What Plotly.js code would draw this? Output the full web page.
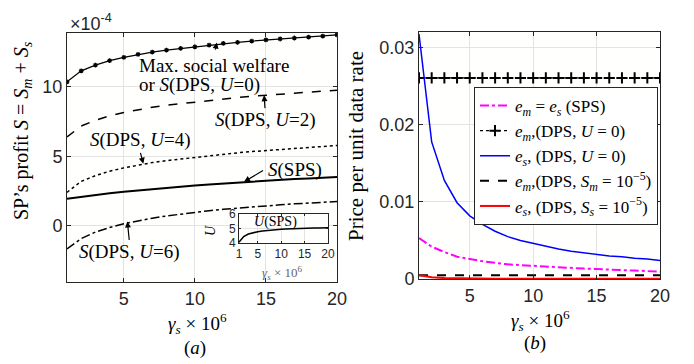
<!DOCTYPE html>
<html>
<head>
<meta charset="utf-8">
<script src="https://cdn.plot.ly/plotly-3.0.1.min.js"></script>
<style>html,body{margin:0;padding:0;background:#fff;}#chart{width:694px;height:364px;}</style>
</head>
<body>
<div id="chart"></div>
<script>
// gamma_s x 10^6
const gamma = [1,2,3,4,5,6,7,8,9,10,11,12,13,14,15,16,17,18,19,20];

// Panel (a): SP's profit S (units of 1e-4)
const sMaxWelfare = [10.36,11.15,11.56,11.88,12.12,12.33,12.50,12.64,12.76,12.88,13.00,13.12,13.20,13.29,13.37,13.44,13.51,13.58,13.65,13.73];
const sDpsU2 = [6.39,7.18,7.59,7.91,8.15,8.36,8.53,8.67,8.79,8.91,9.03,9.15,9.23,9.32,9.40,9.47,9.54,9.61,9.68,9.76];
const sDpsU4 = [2.41,3.20,3.61,3.93,4.17,4.38,4.55,4.69,4.81,4.93,5.05,5.17,5.25,5.34,5.42,5.49,5.56,5.63,5.70,5.78];
const sSps = [1.95,2.09,2.22,2.34,2.45,2.55,2.64,2.73,2.82,2.91,2.98,3.05,3.12,3.18,3.24,3.30,3.36,3.41,3.46,3.51];
const sDpsU6 = [-1.66,-0.92,-0.45,-0.12,0.15,0.36,0.55,0.71,0.85,0.98,1.09,1.19,1.28,1.36,1.44,1.51,1.58,1.64,1.70,1.75];

// Inset: U(SPS)
const uSps = [4.05,4.45,4.62,4.72,4.78,4.83,4.87,4.90,4.92,4.94,4.96,4.98,4.99,5.00,5.01,5.02,5.03,5.04,5.05,5.06];

// Panel (b): price per unit data rate
const eSps = [0.0053,0.0042,0.0035,0.0029,0.0026,0.0023,0.0021,0.0019,0.0018,0.0017,0.0016,0.0015,0.0014,0.00135,0.0013,0.0012,0.00115,0.0011,0.0010,0.00095];
const emDpsU0 = [0.0261,0.0261,0.0261,0.0261,0.0261,0.0261,0.0261,0.0261,0.0261,0.0261,0.0261,0.0261,0.0261,0.0261,0.0261,0.0261,0.0261,0.0261,0.0261,0.0261];
const esDpsU0 = [0.0318,0.0178,0.0128,0.0099,0.0082,0.0071,0.0062,0.0055,0.0050,0.0046,0.0042,0.0039,0.0036,0.0034,0.0032,0.0030,0.0029,0.0027,0.0026,0.0024];
const emDpsSm = [0.00048,0.00048,0.00048,0.00048,0.00048,0.00048,0.00048,0.00048,0.00048,0.00048,0.00048,0.00048,0.00048,0.00048,0.00048,0.00048,0.00048,0.00048,0.00048,0.00048];
const esDpsSs = [0.0005,0.00022,0.00012,0.00008,0.00006,0.00005,0.00004,0.00004,0.00003,0.00003,0.00003,0.00003,0.00002,0.00002,0.00002,0.00002,0.00002,0.00002,0.00002,0.00002];

const legendNames = [
  '<i>e</i><sub><i>m</i></sub> = <i>e</i><sub><i>s</i></sub> (SPS)',
  '<i>e</i><sub><i>m</i></sub>,(DPS, <i>U</i> = 0)',
  '<i>e</i><sub><i>s</i></sub>, (DPS, <i>U</i> = 0)',
  '<i>e</i><sub><i>m</i></sub>,(DPS, <i>S</i><sub><i>m</i></sub> = 10<sup>−5</sup>)',
  '<i>e</i><sub><i>s</i></sub>, (DPS, <i>S</i><sub><i>s</i></sub> = 10<sup>−5</sup>)'
];

const W = 694, H = 364;
const px = v => v / W;
const py = v => 1 - v / H;
const SERIF = 'Liberation Serif, Times New Roman, serif';
const SANS = 'Liberation Sans, Arial, sans-serif';
const AX = '#262626';

const traces = [
  {x: gamma, y: sMaxWelfare, xaxis: 'x', yaxis: 'y', mode: 'lines+markers', showlegend: false,
   line: {color: '#000', width: 1.2}, marker: {symbol: 'asterisk-open', size: 4, color: '#000', line: {color: '#000', width: 1.2}}},
  {x: gamma, y: sDpsU2, xaxis: 'x', yaxis: 'y', mode: 'lines', showlegend: false, line: {color: '#000', width: 1.5, dash: 'dash'}},
  {x: gamma, y: sDpsU4, xaxis: 'x', yaxis: 'y', mode: 'lines', showlegend: false, line: {color: '#000', width: 1.5, dash: 'dot'}},
  {x: gamma, y: sSps, xaxis: 'x', yaxis: 'y', mode: 'lines', showlegend: false, line: {color: '#000', width: 2}},
  {x: gamma, y: sDpsU6, xaxis: 'x', yaxis: 'y', mode: 'lines', showlegend: false, line: {color: '#000', width: 1.5, dash: 'dashdot'}},
  {x: gamma, y: uSps, xaxis: 'x3', yaxis: 'y3', mode: 'lines', showlegend: false, line: {color: '#000', width: 1.5}},

  {x: gamma, y: eSps, xaxis: 'x2', yaxis: 'y2', mode: 'lines', name: legendNames[0], line: {color: '#ff00ff', width: 2, dash: 'dashdot'}},
  {x: gamma, y: emDpsU0, xaxis: 'x2', yaxis: 'y2', mode: 'lines+markers', name: legendNames[1],
   line: {color: '#000', width: 1.2, dash: 'dot'}, marker: {symbol: 'cross-thin-open', size: 8, color: '#000', line: {color: '#000', width: 2}}},
  {x: gamma, y: esDpsU0, xaxis: 'x2', yaxis: 'y2', mode: 'lines', name: legendNames[2], line: {color: '#0000ff', width: 1.5}},
  {x: gamma, y: emDpsSm, xaxis: 'x2', yaxis: 'y2', mode: 'lines', name: legendNames[3], line: {color: '#000', width: 2, dash: 'dash'}},
  {x: gamma, y: esDpsSs, xaxis: 'x2', yaxis: 'y2', mode: 'lines', name: legendNames[4], line: {color: '#ff0000', width: 2}}
];

function axisBase(extra) {
  return Object.assign({
    showgrid: true, gridcolor: '#e3e3e3', gridwidth: 1, zeroline: false,
    showline: true, linecolor: AX, linewidth: 1, mirror: 'ticks',
    ticks: 'inside', ticklen: 4, tickcolor: AX, tickwidth: 1,
    tickfont: {family: SANS, size: 18, color: AX}, automargin: false, fixedrange: true
  }, extra);
}

const annos = [];
function txt(text, x, y, size, opts) {
  annos.push(Object.assign({text: text, xref: 'paper', yref: 'paper', x: px(x), y: py(y),
    xanchor: 'center', yanchor: 'middle', showarrow: false, font: {family: SERIF, size: size, color: '#000'}}, opts || {}));
}
function arrow(hx, hy, tx, ty, xr, yr) {
  annos.push({text: '', xref: xr || 'x', yref: yr || 'y', axref: xr || 'x', ayref: yr || 'y',
    x: hx, y: hy, ax: tx, ay: ty, showarrow: true, arrowhead: 2, arrowsize: 1, arrowwidth: 1.2, arrowcolor: '#000'});
}

// panel (a) labels
txt('×10<sup>-4</sup>', 68, 22, 18, {xanchor: 'left', font: {family: SANS, size: 18, color: AX}});
txt('Max. social welfare', 137, 65, 19, {xanchor: 'left'});
txt('or <i>S</i>(DPS, <i>U</i>=0)', 137, 85, 19, {xanchor: 'left'});
txt('<i>S</i>(DPS, <i>U</i>=2)', 264.5, 120, 19);
txt('<i>S</i>(DPS, <i>U</i>=4)', 140, 140, 19);
txt('<i>S</i>(SPS)', 295, 170, 19);
txt('<i>S</i>(DPS, <i>U</i>=6)', 129, 252, 19);
arrow(11.54, 13.18, 11.42, 12.57);
arrow(14.87, 9.39, 14.94, 8.36);
arrow(6.37, 4.47, 6.14, 5.36);
arrow(13.46, 3.17, 14.9, 4.04);
arrow(5.25, 0.31, 5.39, -1.13);
// inset labels
txt('<i>U</i>(SPS)', 275, 222, 14);
txt('<i>U</i>', 210, 230, 14, {textangle: -90});
txt('<i>γ</i><sub><i>s</i></sub> × 10<sup>6</sup>', 282, 273, 13, {font: {family: SERIF, size: 13, color: '#666'}});
// axis titles
txt('SP\u2019s profit <i>S</i> = <i>S</i><sub><i>m</i></sub> + <i>S</i><sub><i>s</i></sub>', 22, 131, 20, {textangle: -90});
txt('<i>γ</i><sub><i>s</i></sub> × 10<sup>6</sup>', 197, 323, 19);
txt('(<i>a</i>)', 195, 348, 19);
txt('Price per unit data rate', 356, 146, 21, {textangle: -90});
txt('<i>γ</i><sub><i>s</i></sub> × 10<sup>6</sup>', 540, 320, 19);
txt('(<i>b</i>)', 535, 343, 19);

const layout = {
  width: W, height: H,
  margin: {l: 0, r: 0, t: 0, b: 0},
  paper_bgcolor: '#ffffff', plot_bgcolor: '#fffffe',
  showlegend: true,
  xaxis: axisBase({domain: [px(67), px(337)], range: [1, 20], tickvals: [5, 10, 15, 20], anchor: 'y'}),
  yaxis: axisBase({domain: [py(282), py(33)], range: [-4.04, 13.87], tickvals: [0, 5, 10], anchor: 'x'}),
  xaxis2: axisBase({domain: [px(419), px(660)], range: [1, 20], tickvals: [5, 10, 15, 20], anchor: 'y2'}),
  yaxis2: axisBase({domain: [py(279), py(31.7)], range: [0, 0.0321], tickvals: [0, 0.01, 0.02, 0.03], ticktext: ['0', '0.01', '0.02', '0.03'], anchor: 'x2'}),
  xaxis3: axisBase({domain: [px(239), px(328)], range: [1, 20], tickvals: [1, 5, 10, 15, 20], anchor: 'y3', ticklen: 2,
    tickfont: {family: SANS, size: 12, color: AX}}),
  yaxis3: axisBase({domain: [py(243), py(214)], range: [4, 6], tickvals: [4, 5, 6], anchor: 'x3', ticklen: 2,
    tickfont: {family: SANS, size: 12, color: AX}}),
  legend: {x: px(658), xanchor: 'right', y: py(87), yanchor: 'top', bgcolor: '#ffffff',
    bordercolor: AX, borderwidth: 1, font: {family: SERIF, size: 17, color: '#000'},
    itemwidth: 30, tracegroupgap: 0},
  annotations: annos
};

Plotly.newPlot('chart', traces, layout, {displayModeBar: false, staticPlot: true});
</script>
</body>
</html>
